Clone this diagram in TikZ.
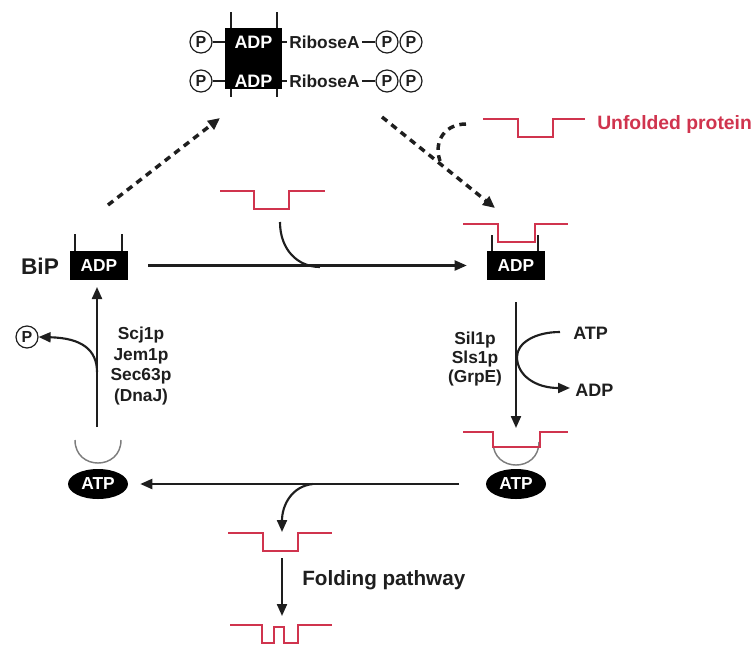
\documentclass[tikz,border=0pt]{standalone}
\usepackage{fontspec}
\setmainfont{Liberation Sans}
\usetikzlibrary{arrows.meta,shapes.geometric}
\definecolor{protred}{RGB}{208,52,78}
\definecolor{cupgray}{RGB}{125,125,125}
\definecolor{ink}{RGB}{30,30,30}
\begin{document}
\begin{tikzpicture}[x=0.75pt,y=-0.75pt,
  arr/.style={ink, line width=1.6pt, -{Triangle[length=9pt,width=7.5pt]}},
  dashline/.style={ink, line width=2.6pt, dash pattern=on 5pt off 4pt},
  dasharr/.style={dashline, -{Triangle[length=9pt,width=8pt]}},
  prot/.style={protred, line width=1.3pt},
  lbl/.style={text=ink, font=\fontsize{13}{15}\selectfont\bfseries, inner sep=0pt, align=center},
  adpbox/.style={fill=black, text=white, font=\fontsize{13}{15}\selectfont\bfseries, inner sep=0pt, minimum width=43.5pt, minimum height=21.75pt},
  whitetxt/.style={text=white, font=\fontsize{13.5}{15}\selectfont\bfseries, inner sep=0pt},
  pcirc/.style={circle, draw=ink, text=ink, line width=0.9pt, minimum size=16.5pt, inner sep=0pt, font=\fontsize{12}{12}\selectfont\bfseries},
  leg/.style={ink, line width=1.2pt},
  thin/.style={ink, line width=0.9pt},
  atpnode/.style={ellipse, fill=black, text=white, font=\fontsize{13}{15}\selectfont\bfseries, minimum width=45pt, minimum height=22.5pt, inner sep=0pt},
  cup/.style={cupgray, line width=1.1pt}
]
\useasboundingbox (0,0) rectangle (754,644);

% ---------- top: ADP-ribosylated BiP ----------
\draw[leg] (231,12) -- (231,97);
\draw[leg] (277,12) -- (277,97);
\node[fill=black, minimum width=42.75pt, minimum height=45.75pt, inner sep=0pt] (topbox) at (253.5,58.5) {};
\node[whitetxt] (tadp1) at (253.5,42) {ADP};
\node[whitetxt] (tadp2) at (253.5,81) {ADP};
\node[pcirc] (pl1) at (201,42) {P};
\node[pcirc] (pl2) at (201,81) {P};
\draw[thin] (pl1.east) -- (pl1.east -| topbox.west);
\draw[thin] (pl2.east) -- (pl2.east -| topbox.west);
\node[lbl, anchor=west, inner xsep=1.5pt] (rib1) at (287,42) {RiboseA};
\node[lbl, anchor=west, inner xsep=1.5pt] (rib2) at (287,81) {RiboseA};
\node[pcirc] (pr1a) at (387,42) {P};
\node[pcirc] (pr1b) at (411,42) {P};
\node[pcirc] (pr2a) at (387,81) {P};
\node[pcirc] (pr2b) at (411,81) {P};
\draw[thin] (rib1.west -| topbox.east) -- (rib1.west);
\draw[thin] (rib2.west -| topbox.east) -- (rib2.west);
\draw[thin] (rib1.east) -- (pr1a.west);
\draw[thin] (rib2.east) -- (pr2a.west);

% ---------- unfolded protein (top right) ----------
\draw[prot] (483,119) -- (518,119) -- (518,137) -- (553,137) -- (553,119) -- (585,119);
\node[anchor=west, inner sep=0pt, text=protred, font=\fontsize{14.5}{16}\selectfont\bfseries] (unf) at (597,124) {Unfolded protein};

% ---------- BiP-ADP left ----------
\node[anchor=center, text=ink, inner sep=0pt, font=\fontsize{17}{19}\selectfont\bfseries] (bip) at (40,266) {BiP};
\node[adpbox] (bipL) at (99,265.5) {ADP};
\draw[leg] (75,234) -- (75,251);
\draw[leg] (122,234) -- (122,251);

% ---------- BiP-ADP right with substrate ----------
\node[adpbox] (bipR) at (516,265.5) {ADP};
\draw[leg] (492,235) -- (492,251);
\draw[leg] (538,235) -- (538,251);
\draw[prot] (463,224) -- (498,224) -- (498,242) -- (535,242) -- (535,224) -- (568,224);

% ---------- dashed arrows ----------
\coordinate (dl0) at (108,205);
\coordinate (dl1) at (220,118);
\coordinate (dr0) at (382,117);
\coordinate (dr1) at (495,208);
\coordinate (dc0) at (466,124);
\coordinate (dc1) at (440,161);
\draw[dasharr] (dl0) -- (dl1);
\draw[dasharr] (dr0) -- (dr1);
\draw[dashline] (dc0) .. controls (446,124) and (433,140) .. (dc1);

% ---------- substrate binding ----------
\draw[prot] (220,191) -- (254,191) -- (254,209) -- (289,209) -- (289,191) -- (325,191);
\coordinate (sb0) at (280,222);
\coordinate (sb1) at (320,267);
\draw[arr] ([xshift=15pt]bipL.east) -- ([xshift=-15pt]bipR.west);
\draw[ink, line width=1.6pt] (sb0) .. controls (280,250) and (298,267) .. (sb1);

% ---------- nucleotide exchange (right) ----------
\coordinate (rv0) at (516,302);
\coordinate (rv1) at (516,428);
\draw[arr] (rv0) -- (rv1);
\node[lbl, font=\fontsize{13}{14.3}\selectfont\bfseries] (nef) at (475,359) {Sil1p\\Sls1p\\(GrpE)};
\node[lbl, font=\fontsize{13.5}{15}\selectfont\bfseries, anchor=west] (atpin) at (573,333) {ATP};
\node[lbl, font=\fontsize{13.5}{15}\selectfont\bfseries, anchor=west] (adpout) at (575,390) {ADP};
\coordinate (ex0) at (560,332);
\coordinate (exm) at (517,357);
\coordinate (ex1) at (570,388);
\draw[ink, line width=1.6pt] (ex0) .. controls (535,332) and (517,343) .. (exm);
\draw[arr] (exm) .. controls (517,375) and (535,388) .. (ex1);

% ---------- BiP-ATP right with substrate ----------
\draw[cup] (493,442) .. controls (493,472.7) and (539,472.7) .. (539,442);
\draw[prot] (463,432) -- (493,432) -- (493,447) -- (540,447) -- (540,432) -- (568,432);
\node[atpnode] (atpR) at (516,484) {ATP};

% ---------- BiP-ATP left ----------
\node[atpnode] (atpL) at (98,484) {ATP};
\draw[cup] (75,440) .. controls (75,470.7) and (121,470.7) .. (121,440);
\draw[arr] ([xshift=-20pt]atpR.west) -- ([xshift=9pt]atpL.east);

% ---------- substrate release ----------
\coordinate (rl0) at (313,484);
\coordinate (rl1) at (282,532);
\draw[arr] (rl0) .. controls (292,486) and (282,505) .. (rl1);
\draw[prot] (228,533) -- (263,533) -- (263,551) -- (298,551) -- (298,533) -- (332,533);
\coordinate (fp0) at (282,558);
\coordinate (fp1) at (282,616);
\draw[arr] (fp0) -- (fp1);
\node[lbl, font=\fontsize{15.5}{17}\selectfont\bfseries, anchor=west] (fold) at (302,580) {Folding pathway};
\draw[prot] (230,625) -- (262,625) -- (262,643) -- (274,643) -- (274,627) -- (284,627) -- (284,643) -- (298,643) -- (298,625) -- (332,625);

% ---------- J-protein stimulated hydrolysis (left) ----------
\coordinate (lv0) at (97,427);
\coordinate (lv1) at (97,287);
\draw[arr] (lv0) -- (lv1);
\node[lbl, font=\fontsize{13}{15.5}\selectfont\bfseries] (jdp) at (141,366) {Scj1p\\Jem1p\\Sec63p\\(DnaJ)};
\node[pcirc] (pfree) at (27,337) {P};
\coordinate (ph0) at (97,372);
\draw[arr] (ph0) .. controls (97,350) and (82,338) .. (pfree.east);
\end{tikzpicture}
\end{document}
